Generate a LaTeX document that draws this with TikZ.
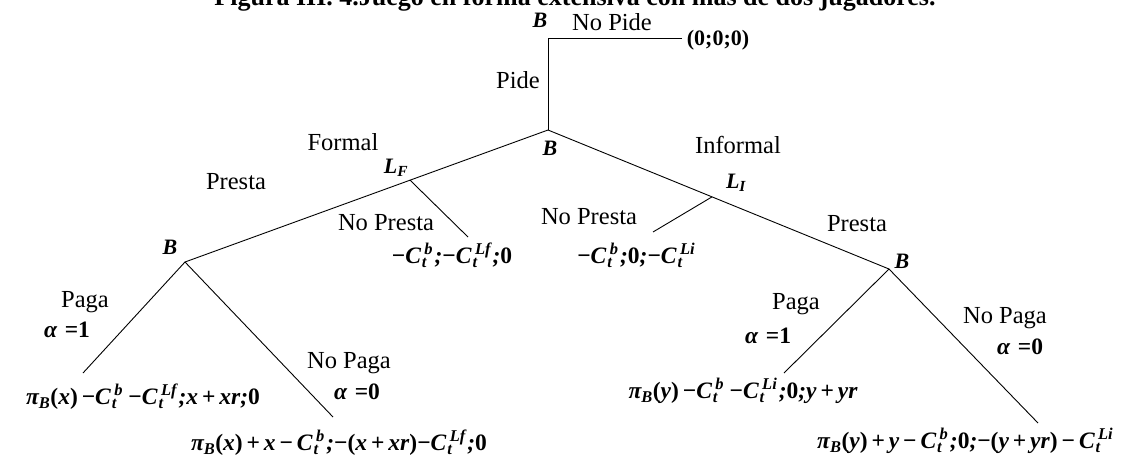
\documentclass[tikz,border=0pt]{standalone}
\usepackage{fontspec}
\setmainfont{Liberation Serif}
\usetikzlibrary{calc}
\newcommand\Cx[1]{C\kern1pt\rlap{\textsubscript{t}}\kern2.5pt\textsuperscript{#1}\kern1.5pt}
\newcommand\piB{π\textsubscript{B}}
\newcommand\mi{\,\textup{−}\,}
\newcommand\pl{\,\textup{+}\,}
\tikzset{
  lbl/.style={inner sep=0pt, font=\fontsize{24.5}{28}\selectfont},
  pl/.style={inner sep=0pt, font=\fontsize{22}{26}\selectfont\bfseries\itshape},
  pay/.style={inner sep=0pt, font=\fontsize{23.5}{27}\selectfont\bfseries\itshape},
  ttl/.style={inner sep=0pt, font=\fontsize{26}{30}\selectfont\bfseries},
  edge/.style={line width=0.9pt},
  pt/.style={inner sep=0pt, minimum size=0pt}
}
\begin{document}
\begin{tikzpicture}[x=1pt,y=-1pt]
\useasboundingbox (0,0) rectangle (1138,459);
\clip (0,0) rectangle (1138,459);
\fill[white] (0,0) rectangle (1138,459);
% title (cut off at top)
\node[ttl, anchor=base] (title) at (575,5.5) {Figura III. 4.Juego en forma extensiva con más de dos jugadores.};
% tree points
\coordinate (T) at (548,38);
\coordinate (P0) at (682,38);
\coordinate (B1) at (548,130);
\coordinate (BL) at (185,262);
\coordinate (BR) at (889,269);
\coordinate (LF) at ($(B1)!0.380!(BL)$);
\coordinate (LI) at ($(B1)!0.481!(BR)$);
\coordinate (LFe) at (468,237);
\coordinate (LIe) at (653,232);
\coordinate (BLa) at (83,373);
\coordinate (BLb) at (333,417);
\coordinate (BRa) at (784,373);
\coordinate (BRb) at (1038,423);
% edges
\draw[edge] (P0) -- (T) -- (B1);
\draw[edge] (BL) -- (B1) -- (BR);
\draw[edge] (LF) -- (LFe);
\draw[edge] (LI) -- (LIe);
\draw[edge] (BLa) -- (BL) -- (BLb);
\draw[edge] (BRa) -- (BR) -- (BRb);
% player labels
\node[pl] (bT) at (540,20) {B};
\node[pl] (b1) at (550,148) {B};
\node[pl] (lf) at (396,168) {L\textsubscript{F}};
\node[pl] (li) at (736,183) {L\textsubscript{I}};
\node[pl] (bl) at (170,247) {B};
\node[pl] (br) at (902,261) {B};
% action labels
\node[lbl] (nopide) at (612,22) {No Pide};
\node[lbl] (pide) at (518,80) {Pide};
\node[lbl] (formal) at (343,142) {Formal};
\node[lbl] (informal) at (738,145) {Informal};
\node[lbl] (npl) at (386,223) {No Presta};
\node[lbl] (npr) at (589,217) {No Presta};
\node[lbl] (prl) at (236,182) {Presta};
\node[lbl] (prr) at (857,224) {Presta};
\node[lbl] (pagal) at (85,302) {Paga};
\node[pay] (a1l) at (67,330) {α\,\,\textup{=}\textup{1}};
\node[lbl] (npagal) at (349,363) {No Paga};
\node[pay] (a0l) at (357,392) {α\,\,\textup{=}\textup{0}};
\node[lbl] (pagar) at (796,304) {Paga};
\node[pay] (a1r) at (768,336) {α\,\,\textup{=}\textup{1}};
\node[lbl] (npagar) at (1005,318) {No Paga};
\node[pay] (a0r) at (1020,347) {α\,\,\textup{=}\textup{0}};
% payoffs
\node[pay, font=\fontsize{22}{26}\selectfont\bfseries] (p0) at (718,40) {(0;0;0)};
\node[pay] (p2) at (452,255) {\textup{−}\Cx{b};\textup{−}\Cx{Lf};\textup{0}};
\node[pay] (p3) at (637,255) {\textup{−}\Cx{b};\textup{0};\textup{−}\Cx{Li}};
\node[pay] (p4) at (143,397) {\piB\textup{(}x\textup{)}\,\textup{−}\Cx{b}\,\textup{−}\Cx{Lf};x\pl xr;\textup{0}};
\node[pay] (p5) at (339,443) {\piB\textup{(}x\textup{)}\pl x\mi\Cx{b};\textup{−(}x\pl xr\textup{)−}\Cx{Lf};\textup{0}};
\node[pay] (p6) at (743,391) {\piB\textup{(}y\textup{)}\,\textup{−}\Cx{b}\,\textup{−}\Cx{Li};\textup{0};y\pl yr};
\node[pay] (p7) at (966,441) {\piB\textup{(}y\textup{)}\pl y\mi\Cx{b};\textup{0};\textup{−(}y\pl yr\textup{)}\mi\Cx{Li}};
\end{tikzpicture}
\end{document}
